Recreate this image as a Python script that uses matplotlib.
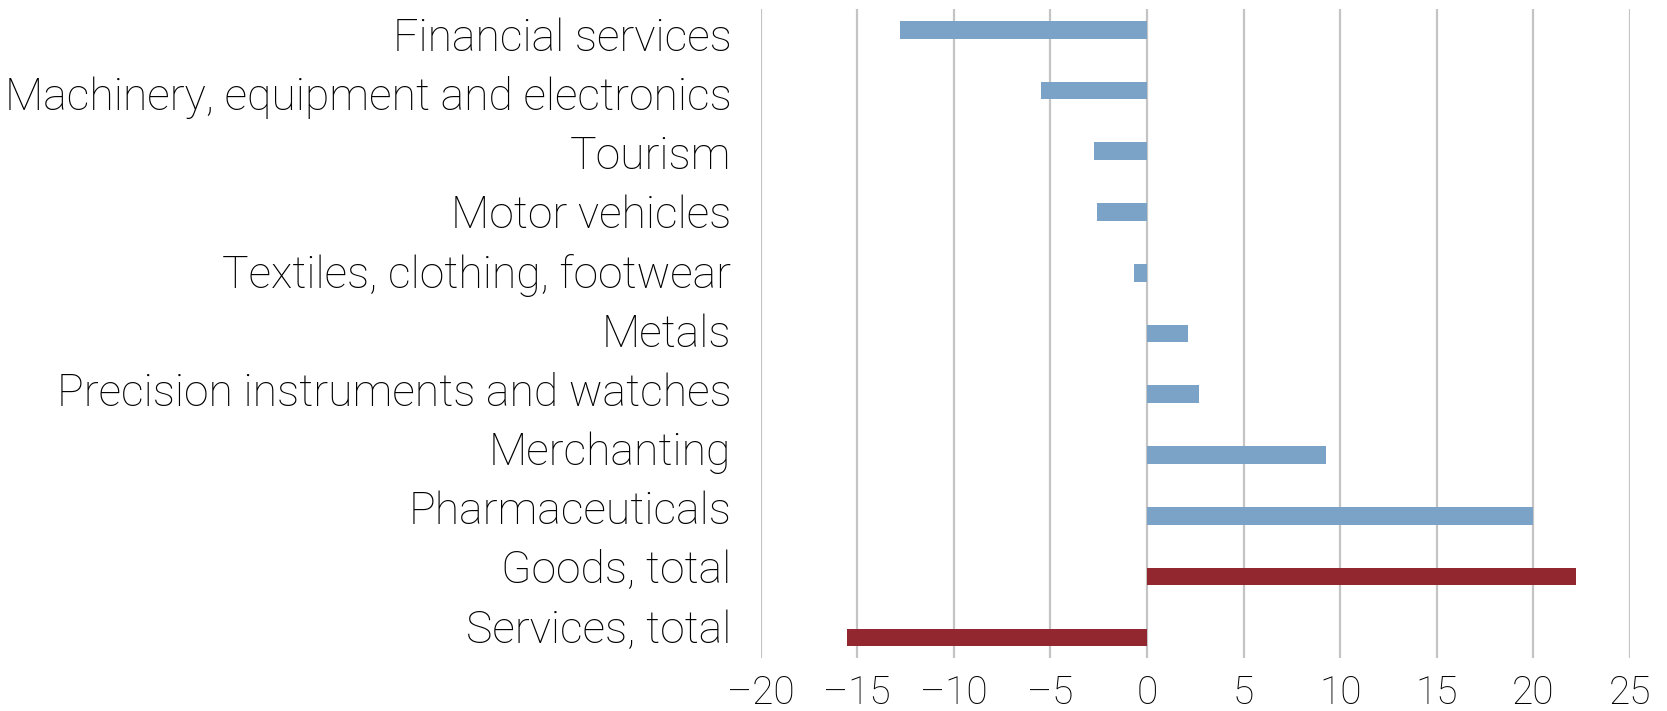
import matplotlib
matplotlib.use('Agg')
import matplotlib.pyplot as plt
from matplotlib.transforms import ScaledTranslation

# categories top to bottom
categories = [
    'Financial services',
    'Machinery, equipment and electronics',
    'Tourism',
    'Motor vehicles',
    'Textiles, clothing, footwear',
    'Metals',
    'Precision instruments and watches',
    'Merchanting',
    'Pharmaceuticals',
    'Goods, total',
    'Services, total',
]
values = [-12.8, -5.5, -2.75, -2.6, -0.65, 2.1, 2.7, 9.25, 20.0, 22.2, -15.55]
is_total = [False] * 9 + [True, True]
x_ticks = [-20, -15, -10, -5, 0, 5, 10, 15, 20, 25]

BLUE = '#7ba3c7'
RED = '#93272f'

plt.rcParams['font.family'] = ['Roboto', 'DejaVu Sans']
plt.rcParams['font.weight'] = 'light'

fig = plt.figure(figsize=(16.67, 7.11), dpi=100)
ax = fig.add_axes([0.4563, 0.0745, 0.5215, 0.9128])

pos = list(range(len(categories)))
colors = [RED if t else BLUE for t in is_total]
ax.barh(pos, values, height=0.29, color=colors, zorder=3)

ax.set_xlim(-20, 25)
ax.set_ylim(len(categories) - 1 + 0.34, -0.34)
ax.set_xticks(x_ticks)
ax.set_xticklabels([f'\u2013{abs(v)}' if v < 0 else str(v) for v in x_ticks])
ax.set_yticks(pos)
ax.set_yticklabels(categories)

ax.grid(axis='x', color='#c4c4c4', linewidth=1.6, zorder=0)
for s in ax.spines.values():
    s.set_visible(False)
ax.tick_params(axis='both', length=0, colors='#000000')
ax.tick_params(axis='y', pad=21, labelsize=32)
ax.tick_params(axis='x', pad=12, labelsize=28)

# labels in the original sit on a slightly tighter pitch than the bars
for i, lbl in enumerate(ax.get_yticklabels()):
    dy = (4.5 - 1.6 * i) / fig.dpi
    lbl.set_transform(lbl.get_transform() + ScaledTranslation(0, -dy, fig.dpi_scale_trans))

fig.savefig('out.png', dpi=100)
